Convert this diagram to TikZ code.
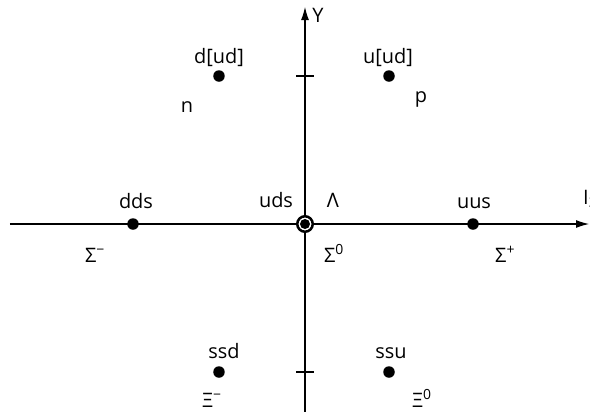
\documentclass[tikz,border=0pt]{standalone}
\usepackage{fontspec}
\setmainfont{Open Sans}
\usetikzlibrary{arrows.meta}
\tikzset{
  quark/.style={circle, fill, inner sep=0pt, minimum size=11.5bp},
  lbl/.style={inner sep=0pt, anchor=base},
  lblw/.style={inner sep=0pt, anchor=base west}
}
\begin{document}
\begin{tikzpicture}[>={Latex[length=13bp,width=8bp]}, x=1bp, y=1bp, font=\fontsize{20}{24}\selectfont]
\useasboundingbox (-305,-187) rectangle (285,224);
% axes
\coordinate (xl) at (-295,0);
\coordinate (xr) at (284,0);
\coordinate (yb) at (0,-190);
\coordinate (yt) at (0,217);
\draw[->, line width=1.1bp] (xl) -- (xr);
\draw[->, line width=1.1bp] (yb) -- (yt);
\node[lbl] (ylab) at (13,202) {Y};
\node[lblw] (ilab) at (278,20) {I\textsubscript{3}};
% ticks
\coordinate (t1l) at (-9,148); \coordinate (t1r) at (9,148);
\coordinate (t2l) at (-9,-148); \coordinate (t2r) at (9,-148);
\draw[line width=1.1bp] (t1l) -- (t1r);
\draw[line width=1.1bp] (t2l) -- (t2r);
% nucleons
\node[quark] (n) at (-86,148) {};
\node[quark] (p) at (84,148) {};
\node[lbl] (nq) at (-86,161) {d[ud]};
\node[lbl] (pq) at (83,161) {u[ud]};
\node[lbl] (nn) at (-118,112) {n};
\node[lbl] (pn) at (116,122) {p};
% sigmas
\node[quark] (sm) at (-172,0) {};
\node[quark] (sp) at (168,0) {};
\node[circle, draw, fill=white, line width=2.5bp, minimum size=15.5bp, inner sep=0pt] (ring) at (0,0) {};
\node[circle, fill, inner sep=0pt, minimum size=10bp] (lam) at (ring) {};
\node[lbl] (smq) at (-169,16) {dds};
\node[lbl] (lamq) at (-29,17) {uds};
\node[lbl] (lamn) at (28,17) {Λ};
\node[lbl] (spq) at (169,16) {uus};
\node[lblw] (smn) at (-220,-38) {Σ\textsuperscript{−}};
\node[lblw] (s0n) at (19,-38) {Σ\textsuperscript{0}};
\node[lblw] (spn) at (190,-38) {Σ\textsuperscript{+}};
% cascades
\node[quark] (xm) at (-86,-148) {};
\node[quark] (x0) at (84,-148) {};
\node[lbl] (xmq) at (-81,-134) {ssd};
\node[lbl] (x0q) at (86,-134) {ssu};
\node[lblw] (xmn) at (-103,-183) {Ξ\textsuperscript{−}};
\node[lblw] (x0n) at (107,-183) {Ξ\textsuperscript{0}};
\end{tikzpicture}
\end{document}
